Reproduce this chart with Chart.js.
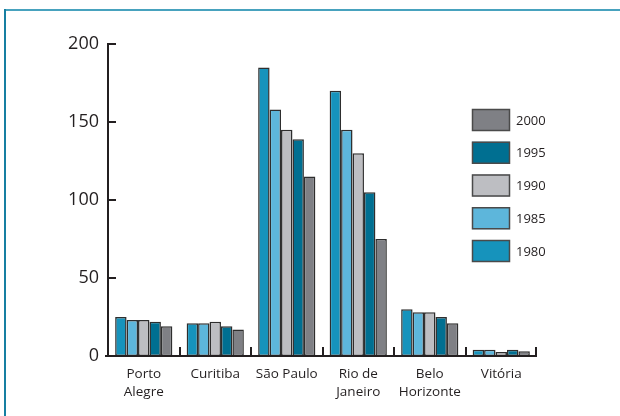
<!DOCTYPE html>
<html>
<head>
<meta charset="utf-8">
<style>
  html, body { margin: 0; padding: 0; background: #ffffff; }
  #wrap { position: relative; width: 620px; height: 416px; }
</style>
<script src="https://cdn.jsdelivr.net/npm/chart.js@4/dist/chart.umd.min.js"></script>
</head>
<body>
<div id="wrap"><canvas id="chart" width="620" height="416"></canvas></div>
<script>
// Cities and population figures by census year
const cities = [["Porto", "Alegre"], "Curitiba", "São Paulo", ["Rio de", "Janeiro"], ["Belo", "Horizonte"], "Vitória"];
const years = ["1980", "1985", "1990", "1995", "2000"];
const v1980 = [25, 21, 185, 170, 30, 4];
const v1985 = [23, 21, 158, 145, 28, 4];
const v1990 = [23, 22, 145, 130, 28, 2.5];
const v1995 = [22, 19, 139, 105, 25, 4];
const v2000 = [19, 17, 115, 75, 21, 3];
const yTicks = [0, 50, 100, 150, 200];

const colors = ["#1693bc", "#5db6db", "#bdbec2", "#006f91", "#7f8085"];
const series = [v1980, v1985, v1990, v1995, v2000];

const FONT = "'Open Sans', 'Noto Sans', sans-serif";
const INK = "#231f20";

// Frame, axes with inward ticks, category separators and the legend box
const decor = {
  id: "decor",
  beforeDraw(chart) {
    const ctx = chart.ctx;
    ctx.save();
    ctx.fillStyle = "#ffffff";
    ctx.fillRect(0, 0, chart.width, chart.height);
    ctx.lineWidth = 2;
    ctx.strokeStyle = "#47a2be";
    ctx.beginPath(); ctx.moveTo(4, 10); ctx.lineTo(chart.width, 10); ctx.stroke();
    ctx.strokeStyle = "#167fa2";
    ctx.beginPath(); ctx.moveTo(5, 9); ctx.lineTo(5, chart.height); ctx.stroke();
    ctx.restore();
  },
  afterDatasetsDraw(chart) {
    const ctx = chart.ctx;
    const { left, right, top, bottom } = chart.chartArea;
    const x = chart.scales.x, y = chart.scales.y;
    ctx.save();
    ctx.strokeStyle = INK;
    ctx.lineWidth = 2;
    ctx.lineCap = "butt";
    // axes
    ctx.beginPath();
    ctx.moveTo(left, top - 1);
    ctx.lineTo(left, bottom);
    ctx.lineTo(right, bottom);
    ctx.stroke();
    ctx.beginPath(); ctx.moveTo(left - 3, bottom); ctx.lineTo(left, bottom); ctx.stroke();
    // y ticks pointing inward
    yTicks.forEach(t => {
      if (t === 0) return;
      const py = Math.round(y.getPixelForValue(t));
      ctx.beginPath(); ctx.moveTo(left, py); ctx.lineTo(left + 8, py); ctx.stroke();
    });
    // category separators
    const n = cities.length;
    for (let i = 0; i < n; i++) {
      const px = i < n - 1 ? (x.getPixelForValue(i) + x.getPixelForValue(i + 1)) / 2 : right - 1;
      ctx.beginPath(); ctx.moveTo(Math.round(px), bottom); ctx.lineTo(Math.round(px), bottom - 9); ctx.stroke();
    }
    // legend, newest year on top
    const lx = 472, ly = 109, bw = 38, bh = 22, step = 32.75;
    const ds = chart.data.datasets;
    ctx.font = "13px " + FONT;
    ctx.textBaseline = "middle";
    ctx.textAlign = "left";
    for (let k = 0; k < ds.length; k++) {
      const d = ds[ds.length - 1 - k];
      const yy = ly + k * step;
      ctx.fillStyle = d.backgroundColor;
      ctx.fillRect(lx, yy, bw, bh);
      ctx.lineWidth = 1.5;
      ctx.strokeStyle = "#4a4a4a";
      ctx.strokeRect(lx + 0.5, yy + 0.5, bw - 1, bh - 1);
      ctx.fillStyle = INK;
      ctx.fillText(d.label, lx + bw + 6, yy + bh / 2 + 1);
    }
    ctx.restore();
  }
};

new Chart(document.getElementById("chart"), {
  type: "bar",
  data: {
    labels: cities,
    datasets: years.map((yr, i) => ({
      label: yr,
      data: series[i],
      backgroundColor: colors[i],
      borderColor: "#2e2e2e",
      borderWidth: 1.5,
      borderSkipped: false,
      categoryPercentage: 0.8,
      barPercentage: 1.0
    }))
  },
  options: {
    responsive: false,
    animation: false,
    devicePixelRatio: 1,
    layout: { padding: { top: 44, right: 83, left: 0, bottom: 0 } },
    plugins: { legend: { display: false }, tooltip: { enabled: false } },
    scales: {
      x: {
        grid: { display: false, drawTicks: false },
        border: { display: false },
        ticks: { color: INK, font: { family: FONT, size: 13.5, lineHeight: 1.27 }, padding: 10, maxRotation: 0, autoSkip: false },
        afterFit(s) { s.height = 60; }
      },
      y: {
        min: 0, max: 200,
        afterBuildTicks(s) { s.ticks = yTicks.map(v => ({ value: v })); },
        grid: { display: false, drawTicks: false },
        border: { display: false },
        ticks: { color: INK, font: { family: FONT, size: 18 }, padding: 9 },
        afterFit(s) { s.width = 108; }
      }
    }
  },
  plugins: [decor]
});
</script>
</body>
</html>
